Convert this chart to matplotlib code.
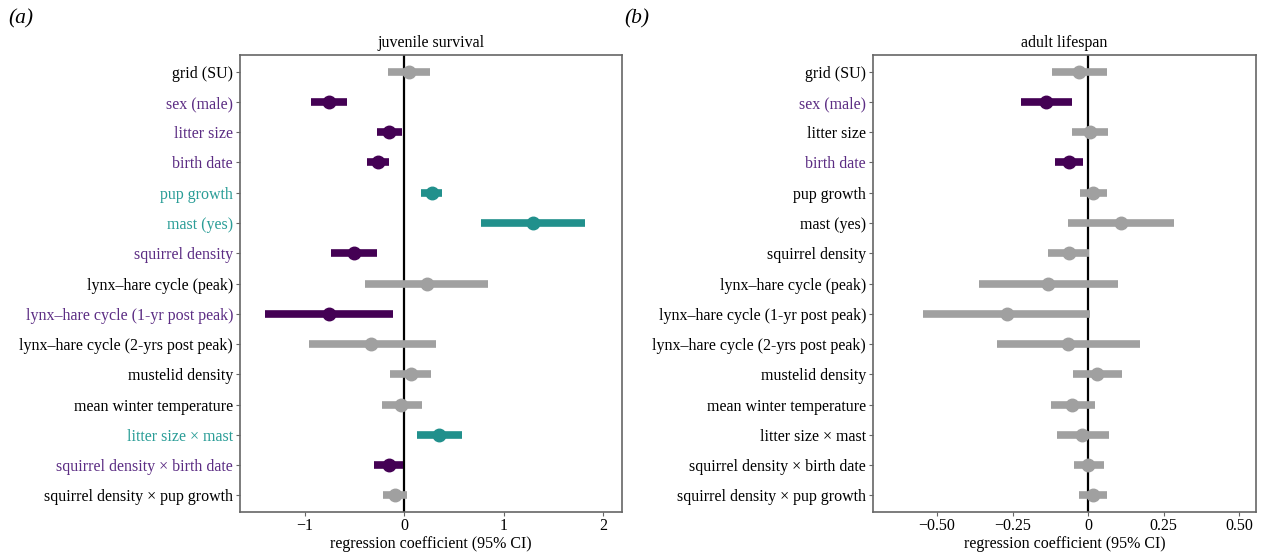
import matplotlib
matplotlib.use("Agg")
import matplotlib.pyplot as plt

plt.rcParams["font.family"] = ["Liberation Serif", "DejaVu Serif"]
plt.rcParams["font.size"] = 11.5

# Data
labels = ["grid (SU)", "sex (male)", "litter size", "birth date", "pup growth",
          "mast (yes)", "squirrel density", "lynx\u2013hare cycle (peak)",
          "lynx\u2013hare cycle (1-yr post peak)", "lynx\u2013hare cycle (2-yrs post peak)",
          "mustelid density", "mean winter temperature", "litter size \u00d7 mast",
          "squirrel density \u00d7 birth date", "squirrel density \u00d7 pup growth"]

juv_est = [0.045, -0.76, -0.15, -0.26, 0.28, 1.30, -0.50, 0.225, -0.76, -0.33,
           0.066, -0.03, 0.35, -0.15, -0.094]
juv_lo = [-0.16, -0.94, -0.27, -0.37, 0.17, 0.77, -0.74, -0.39, -1.40, -0.96,
          -0.14, -0.225, 0.13, -0.30, -0.21]
juv_hi = [0.26, -0.57, -0.02, -0.15, 0.385, 1.82, -0.27, 0.84, -0.11, 0.32,
          0.27, 0.18, 0.58, -0.01, 0.03]
juv_sig = ["n", "neg", "neg", "neg", "pos", "pos", "neg", "n", "neg", "n",
           "n", "n", "pos", "neg", "n"]

adu_est = [-0.029, -0.138, 0.005, -0.064, 0.017, 0.108, -0.064, -0.131, -0.27,
           -0.066, 0.031, -0.052, -0.019, 0.001, 0.016]
adu_lo = [-0.118, -0.222, -0.052, -0.111, -0.027, -0.067, -0.134, -0.36, -0.545,
          -0.30, -0.049, -0.124, -0.104, -0.047, -0.029]
adu_hi = [0.063, -0.052, 0.066, -0.017, 0.063, 0.283, 0.004, 0.098, 0.007,
          0.171, 0.112, 0.024, 0.068, 0.052, 0.063]
adu_sig = ["n", "neg", "n", "neg", "n", "n", "n", "n", "n", "n",
           "n", "n", "n", "n", "n"]

colours = {"n": "#a0a0a0", "neg": "#440154", "pos": "#21908c"}
label_colours = {"n": "black", "neg": "#5b2c83", "pos": "#2a9d97"}


def forest(ax, est, lo, hi, sig, title, xlim, xticks, xticklabels):
    ypos = list(range(len(labels), 0, -1))
    ax.axvline(0, color="black", lw=1.6, zorder=1)
    for y, e, l, h, s in zip(ypos, est, lo, hi, sig):
        c = colours[s]
        ax.plot([l, h], [y, y], color=c, lw=5.5, solid_capstyle="butt", zorder=2)
        ax.plot(e, y, "o", color=c, ms=9, zorder=3)
    ax.set_yticks(ypos)
    ax.set_yticklabels(labels)
    for tl, s in zip(ax.get_yticklabels(), sig):
        tl.set_color(label_colours[s])
    ax.set_ylim(0.45, len(labels) + 0.55)
    ax.set_xlim(*xlim)
    ax.set_xticks(xticks)
    ax.set_xticklabels(xticklabels)
    ax.set_xlabel("regression coefficient (95% CI)", labelpad=1)
    ax.set_title(title, fontsize=11.5, pad=6)
    for sp in ax.spines.values():
        sp.set_color("#666666")
        sp.set_linewidth(1.2)
    ax.tick_params(axis="both", length=3, color="#666666", labelsize=11.5)
    ax.tick_params(axis="y", pad=2)
    ax.tick_params(axis="x", pad=1.5)


fig = plt.figure(figsize=(12.63, 5.55), dpi=100)
ax1 = fig.add_axes([240 / 1263, 43 / 555, 382 / 1263, 457 / 555])
ax2 = fig.add_axes([873 / 1263, 43 / 555, 383 / 1263, 457 / 555])

forest(ax1, juv_est, juv_lo, juv_hi, juv_sig, "juvenile survival",
       (-1.65, 2.19), [-1, 0, 1, 2], ["\u22121", "0", "1", "2"])
forest(ax2, adu_est, adu_lo, adu_hi, adu_sig, "adult lifespan",
       (-0.712, 0.556), [-0.5, -0.25, 0, 0.25, 0.5],
       ["\u22120.50", "\u22120.25", "0", "0.25", "0.50"])

fig.text(8 / 1263, 1 - 19 / 555, "(a)", fontsize=15.5, style="italic", va="center")
fig.text(624 / 1263, 1 - 19 / 555, "(b)", fontsize=15.5, style="italic", va="center")

fig.savefig("out.png", dpi=100)
